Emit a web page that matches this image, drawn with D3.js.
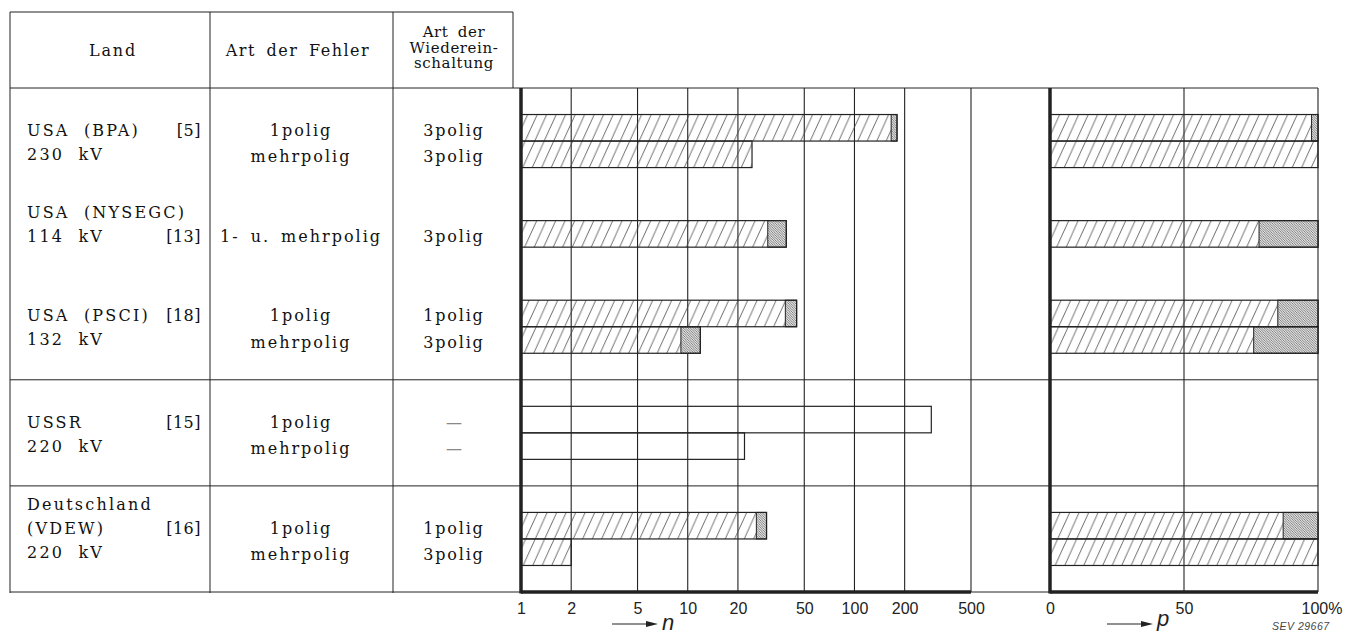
<!DOCTYPE html>
<html>
<head>
<meta charset="utf-8">
<script src="https://cdn.jsdelivr.net/npm/d3@7"></script>
<style>
  body { margin: 0; background: #fff; }
  .tab { font-family: "DejaVu Serif", serif; fill: #111; }
  .lbl { font-family: "Liberation Sans", Arial, sans-serif; fill: #222; }
</style>
</head>
<body>
<div id="chart"></div>
<script>
// table columns
const landLines = [
  ["USA (BPA)", "230 kV"],
  ["USA (NYSEGC)", "114 kV"],
  ["USA (PSCI)", "132 kV"],
  ["USSR", "220 kV"],
  ["Deutschland", "(VDEW)", "220 kV"]
];
const landRefs = ["[5]", "[13]", "[18]", "[15]", "[16]"];
const refLine = [0, 1, 0, 0, 1];   // which land line carries the reference

// one entry per bar
const barGroup = [0, 0, 1, 2, 2, 3, 3, 4, 4];
const fehler = ["1polig", "mehrpolig", "1- u. mehrpolig", "1polig", "mehrpolig", "1polig", "mehrpolig", "1polig", "mehrpolig"];
const wiederein = ["3polig", "3polig", "3polig", "1polig", "3polig", "\u2014", "\u2014", "1polig", "3polig"];
const nTotal   = [180, 24.3, 39, 45, 11.9, 289, 21.9, 29.7, 2];
const nSuccess = [166, 24.3, 30.2, 38.5, 9.1, null, null, 25.8, 2];
const pSuccess = [97.6, 100, 78, 85, 76, null, null, 87, 100];

const nTicks = [1, 2, 5, 10, 20, 50, 100, 200, 500];
const pTicks = [0, 50, 100];

const W = 1348, H = 634;
const ink = "#222";

// layout
const groupStart = [1, 5, 8, 12, 16];   // first slot of every group
const separators = [11, 15];
const colX = [10, 210, 393, 513];

const x = d3.scaleLog().domain([1, 500]).range([521, 971]);
const p = d3.scaleLinear().domain([0, 100]).range([1050, 1318]);
const y = d3.scaleLinear().domain([0, 19]).range([88, 592]);

const slotOf = [];
barGroup.forEach(function(g, i) {
  slotOf.push(groupStart[g] + barGroup.slice(0, i).filter(v => v == g).length);
});
const bars = barGroup.map((g, i) => ({
  i: i, g: g, slot: slotOf[i],
  total: nTotal[i], ok: nSuccess[i], pct: pSuccess[i]
}));

const svg = d3.select("#chart").append("svg")
  .attr("width", W).attr("height", H);

// patterns
const defs = svg.append("defs");
const hatch = defs.append("pattern")
  .attr("id", "hatch").attr("patternUnits", "userSpaceOnUse")
  .attr("width", 9.5).attr("height", 21);
[-9.5, 0, 9.5].forEach(function(o) {
  hatch.append("line")
    .attr("x1", o).attr("y1", 21).attr("x2", o + 9.5).attr("y2", 0)
    .attr("stroke", "#444").attr("stroke-width", 0.8);
});
const dense = defs.append("pattern")
  .attr("id", "dense").attr("patternUnits", "userSpaceOnUse")
  .attr("width", 2.4).attr("height", 2.4);
dense.append("rect").attr("width", 2.4).attr("height", 2.4).attr("fill", "#e4e4e4");
dense.append("path")
  .attr("d", "M0,0 L2.4,2.4 M-1.2,1.2 L1.2,3.6 M1.2,-1.2 L3.6,1.2")
  .attr("stroke", "#555").attr("stroke-width", 0.7);

// table frame
const tab = svg.append("g");
tab.append("line").attr("x1", colX[0]).attr("x2", colX[3]).attr("y1", 12).attr("y2", 12)
  .attr("stroke", ink).attr("stroke-width", 1.2);
colX.forEach(function(cx, k) {
  tab.append("line").attr("x1", cx).attr("x2", cx)
    .attr("y1", 12).attr("y2", k == 3 ? y(0) : y(19) + 1)
    .attr("stroke", ink).attr("stroke-width", 1);
});

// full width rules
[0, ...separators, 19].forEach(function(s) {
  svg.append("line").attr("x1", colX[0]).attr("x2", p(100))
    .attr("y1", y(s)).attr("y2", y(s))
    .attr("stroke", ink).attr("stroke-width", 1);
});

// header
tab.append("text").attr("class", "tab").attr("x", 113).attr("y", 56)
  .attr("text-anchor", "middle").style("font-size", "16px").style("letter-spacing", "1.8px")
  .text("Land");
tab.append("text").attr("class", "tab").attr("x", 298).attr("y", 56)
  .attr("text-anchor", "middle").style("font-size", "16px").style("letter-spacing", "1.5px")
  .style("word-spacing", "4px").text("Art der Fehler");
["Art der", "Wiederein-", "schaltung"].forEach(function(t, k) {
  tab.append("text").attr("class", "tab").attr("x", 454).attr("y", 37 + k * 15.5)
    .attr("text-anchor", "middle").style("font-size", "15px").style("letter-spacing", "0.6px")
    .style("word-spacing", "4px").text(t);
});

// body text
function baseline(slot, line) { return y(slot + 0.5) + 8 + line * 24; }

landLines.forEach(function(lines, g) {
  lines.forEach(function(t, k) {
    tab.append("text").attr("class", "tab")
      .attr("x", 27).attr("y", baseline(groupStart[g], k - refLine[g]))
      .style("font-size", "16px").style("letter-spacing", "2.2px").style("word-spacing", "7px")
      .text(t);
  });
  tab.append("text").attr("class", "tab")
    .attr("x", 201).attr("y", baseline(groupStart[g], 0))
    .attr("text-anchor", "end").style("font-size", "16px").style("letter-spacing", "0.5px")
    .text(landRefs[g]);
});

tab.selectAll(".fehler").data(bars).enter().append("text")
  .attr("class", "tab fehler")
  .attr("x", 301).attr("y", d => baseline(d.slot, 0))
  .attr("text-anchor", "middle").style("font-size", "16px")
  .style("letter-spacing", "2px").style("word-spacing", "4px")
  .text(d => fehler[d.i]);

tab.selectAll(".wieder").data(bars).enter().append("text")
  .attr("class", "tab wieder")
  .attr("x", 454).attr("y", d => baseline(d.slot, 0))
  .attr("text-anchor", "middle").style("font-size", "16px")
  .style("letter-spacing", d => wiederein[d.i].length > 1 ? "1.8px" : "0px")
  .style("fill", d => wiederein[d.i].length > 1 ? "#111" : "#888")
  .text(d => wiederein[d.i]);

// left panel: n (log)
const left = svg.append("g");
left.selectAll(".grid").data(nTicks.slice(1)).enter().append("line")
  .attr("class", "grid")
  .attr("x1", d => x(d)).attr("x2", d => x(d))
  .attr("y1", y(0)).attr("y2", y(19))
  .attr("stroke", ink).attr("stroke-width", 1.1);

left.selectAll(".hb").data(bars.filter(d => d.ok)).enter().append("rect")
  .attr("class", "hb")
  .attr("x", x(1)).attr("y", d => y(d.slot))
  .attr("width", d => x(d.ok) - x(1)).attr("height", y(1) - y(0))
  .attr("fill", "url(#hatch)");
left.selectAll(".db").data(bars.filter(d => d.ok && d.ok < d.total)).enter().append("rect")
  .attr("class", "db")
  .attr("x", d => x(d.ok)).attr("y", d => y(d.slot))
  .attr("width", d => x(d.total) - x(d.ok)).attr("height", y(1) - y(0))
  .attr("fill", "url(#dense)").attr("stroke", ink).attr("stroke-width", 1);
left.selectAll(".ob").data(bars).enter().append("rect")
  .attr("class", "ob")
  .attr("x", x(1)).attr("y", d => y(d.slot))
  .attr("width", d => x(d.total) - x(1)).attr("height", y(1) - y(0))
  .attr("fill", "none").attr("stroke", ink).attr("stroke-width", 1.2);

left.append("line").attr("x1", x(1)).attr("x2", x(1)).attr("y1", y(0)).attr("y2", y(19) + 1.5)
  .attr("stroke", ink).attr("stroke-width", 3.5);
left.append("line").attr("x1", x(1)).attr("x2", x(500)).attr("y1", y(19)).attr("y2", y(19))
  .attr("stroke", ink).attr("stroke-width", 3.5);

const xAxis = d3.axisBottom(x).tickValues(nTicks).tickFormat(d3.format("d")).tickSize(0).tickPadding(0);
const gx = svg.append("g").attr("transform", "translate(0," + 614 + ")").call(xAxis);
gx.select(".domain").remove();
gx.selectAll("text").attr("class", "lbl").attr("dy", 0).attr("fill", ink)
  .style("font-size", "16px").style("font-family", "Liberation Sans, Arial, sans-serif");

// right panel: p (%)
const right = svg.append("g");
right.append("line").attr("x1", p(50)).attr("x2", p(50)).attr("y1", y(0)).attr("y2", y(19))
  .attr("stroke", ink).attr("stroke-width", 1.1);
right.append("line").attr("x1", p(100)).attr("x2", p(100)).attr("y1", y(0)).attr("y2", y(19))
  .attr("stroke", ink).attr("stroke-width", 1.1);

const pb = bars.filter(d => d.pct != null);
right.selectAll(".hp").data(pb).enter().append("rect")
  .attr("class", "hp")
  .attr("x", p(0)).attr("y", d => y(d.slot))
  .attr("width", d => p(d.pct) - p(0)).attr("height", y(1) - y(0))
  .attr("fill", "url(#hatch)");
right.selectAll(".dp").data(pb.filter(d => d.pct < 100)).enter().append("rect")
  .attr("class", "dp")
  .attr("x", d => p(d.pct)).attr("y", d => y(d.slot))
  .attr("width", d => p(100) - p(d.pct)).attr("height", y(1) - y(0))
  .attr("fill", "url(#dense)").attr("stroke", ink).attr("stroke-width", 1);
right.selectAll(".op").data(pb).enter().append("rect")
  .attr("class", "op")
  .attr("x", p(0)).attr("y", d => y(d.slot))
  .attr("width", p(100) - p(0)).attr("height", y(1) - y(0))
  .attr("fill", "none").attr("stroke", ink).attr("stroke-width", 1.2);

right.append("line").attr("x1", p(0)).attr("x2", p(0)).attr("y1", y(0)).attr("y2", y(19) + 1.5)
  .attr("stroke", ink).attr("stroke-width", 3.5);
right.append("line").attr("x1", p(0)).attr("x2", p(100)).attr("y1", y(19)).attr("y2", y(19))
  .attr("stroke", ink).attr("stroke-width", 3.5);

const pAxis = d3.axisBottom(p).tickValues(pTicks).tickSize(0).tickPadding(0)
  .tickFormat(d => d == 100 ? "100%" : d);
const gp = svg.append("g").attr("transform", "translate(0," + 614 + ")").call(pAxis);
gp.select(".domain").remove();
gp.selectAll("text").attr("class", "lbl").attr("dy", 0).attr("fill", ink)
  .style("font-size", "16px").style("font-family", "Liberation Sans, Arial, sans-serif")
  .attr("text-anchor", d => d == 100 ? "start" : "middle")
  .attr("dx", d => d == 100 ? -17 : 0);

// arrows with variable names
function arrow(x0, yy, name, base) {
  svg.append("line").attr("x1", x0).attr("x2", x0 + 36).attr("y1", yy).attr("y2", yy)
    .attr("stroke", ink).attr("stroke-width", 1.2);
  svg.append("path").attr("d", "M" + (x0 + 46) + "," + yy + " L" + (x0 + 34) + "," + (yy - 3) + " L" + (x0 + 34) + "," + (yy + 3) + " Z")
    .attr("fill", ink);
  svg.append("text").attr("class", "lbl").attr("x", x0 + 50).attr("y", base)
    .style("font-size", "22px").style("font-style", "italic").text(name);
}
arrow(612, 624, "n", 630);
arrow(1107, 624, "p", 626);

svg.append("text").attr("class", "lbl").attr("x", 1272).attr("y", 630)
  .style("font-size", "10.5px").style("font-style", "italic").style("fill", "#444")
  .style("letter-spacing", "0.5px").text("SEV 29667");
</script>
</body>
</html>
